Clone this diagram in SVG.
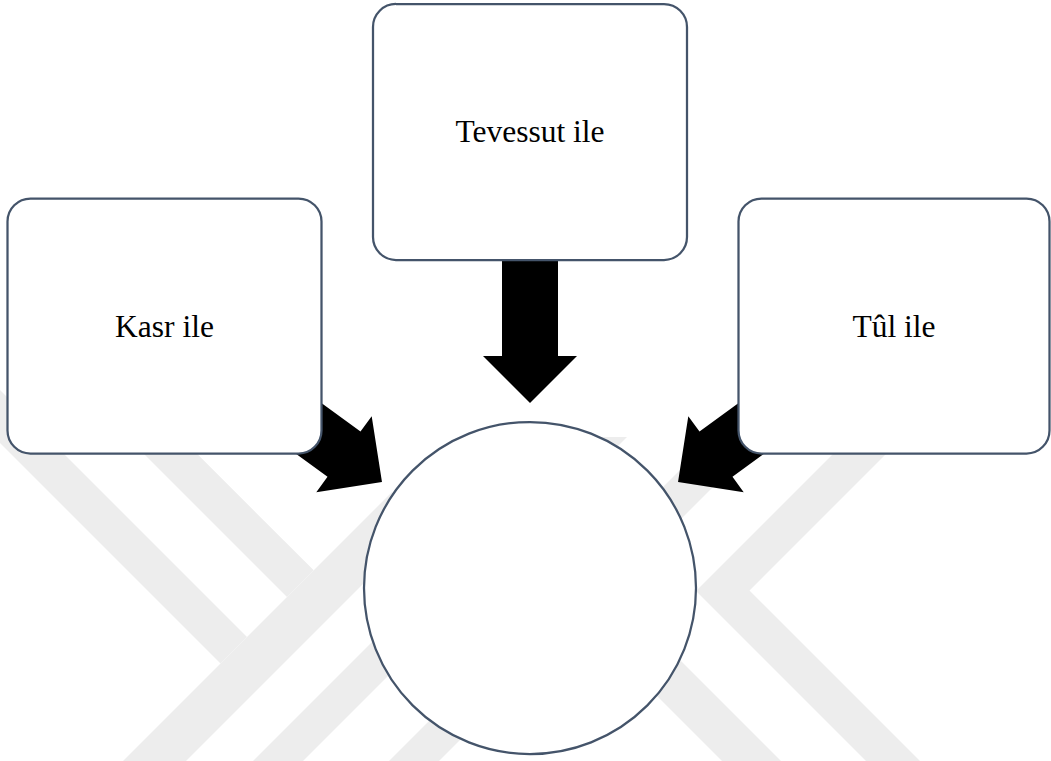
<svg xmlns="http://www.w3.org/2000/svg" width="1051" height="761" viewBox="0 0 1051 761">
  <style>
    .wm { fill: #ededed; }
    .node { fill: #ffffff; stroke: #44546a; stroke-width: 2.25; }
    .label { font-family: "Liberation Serif", "Times New Roman", serif; font-size: 31.5px; fill: #000000; text-anchor: middle; }
    .arrow { fill: #000000; }
  </style>
  <defs>
    <!-- block arrow pointing along +x, origin at the base of the head -->
    <path id="blockArrow" d="M-110,-28 L0,-28 L0,-47 L47,0 L0,47 L0,28 L-110,28 Z"/>
  </defs>

  <rect width="1051" height="761" fill="#ffffff"/>

  <!-- background watermark bands -->
  <g id="watermark">
    <polygon class="wm" points="-20,370 247,637 220.5,663.5 -20,423"/>
    <polygon class="wm" points="120,430 173.3,430 313.7,570.3 287,597"/>
    <polygon class="wm" points="104,780 392,492 423.5,523.5 167,780"/>
    <polygon class="wm" points="234,780 577,437 627,437 284,780"/>
    <polygon class="wm" points="370,780 730,420 780,420 420,780"/>
    <polygon class="wm" points="600,580 800,780 741,780 570.5,609.5"/>
    <polygon class="wm" points="857,430 696,591 885,780 939,780 749.5,590.5 910,430"/>
  </g>

  <!-- connectors -->
  <g id="connectors">
    <use href="#blockArrow" class="arrow" transform="translate(530,356) rotate(90)"/>
    <use href="#blockArrow" class="arrow" transform="translate(344,454.2) rotate(36.1)"/>
    <use href="#blockArrow" class="arrow" transform="translate(716,454.2) rotate(143.9)"/>
  </g>

  <!-- nodes -->
  <g id="node-tevessut">
    <rect class="node" x="373" y="4" width="314" height="256" rx="23" ry="23"/>
    <text class="label" x="530" y="142">Tevessut ile</text>
  </g>
  <g id="node-kasr">
    <rect class="node" x="7.5" y="198.5" width="314" height="255" rx="23" ry="23"/>
    <text class="label" x="164.5" y="337">Kasr ile</text>
  </g>
  <g id="node-tul">
    <rect class="node" x="738.5" y="198.5" width="311" height="255" rx="23" ry="23"/>
    <text class="label" x="894" y="337">Tûl ile</text>
  </g>
  <g id="node-center">
    <circle class="node" cx="530" cy="588" r="166"/>
  </g>
</svg>
